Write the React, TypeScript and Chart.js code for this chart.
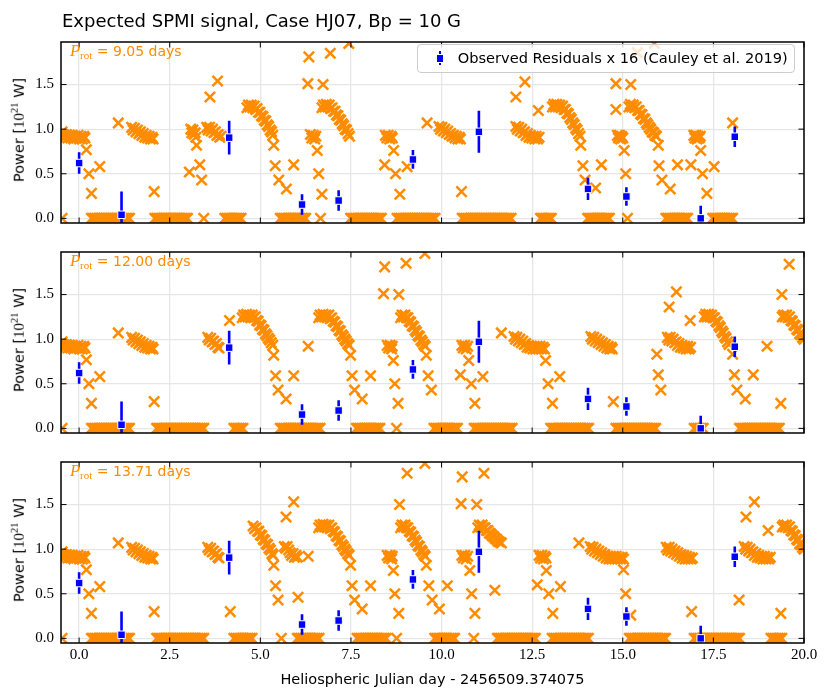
import React, { useEffect, useRef } from 'react';
import { Chart, registerables } from 'chart.js';

Chart.register(...registerables);

type Pt = [number, number];

// ---------- axes ----------
const X_TICKS = [0, 2.5, 5, 7.5, 10, 12.5, 15, 17.5, 20];
const Y_TICKS = [0, 0.5, 1.0, 1.5];
const X_MIN = -0.5;
const X_MAX = 20;
const Y_MIN = -0.052;
const Y_MAX = 1.977;
// model sampling interval (days) used inside the zero-power intervals
const ZERO_STEP = 0.05;

// ---------- observed residuals (blue) ----------
const OBS_X = [0.0, 1.17, 4.14, 6.15, 7.16, 9.21, 11.03, 14.04, 15.10, 17.15, 18.09];
const OBS_Y = [0.62, 0.04, 0.905, 0.155, 0.20, 0.66, 0.97, 0.33, 0.245, 0.0, 0.915];
const OBS_ERR = [0.12, 0.26, 0.19, 0.115, 0.115, 0.105, 0.235, 0.125, 0.105, 0.14, 0.115];

// ---------- model: intervals where power is zero ----------
const P1_ZERO: Pt[] = [[-0.47, -0.47], [0.34, 1.40], [2.09, 3.01], [3.44, 3.44], [4.02, 4.50], [5.55, 6.29], [6.66, 6.66], [7.49, 8.36], [8.77, 9.83], [10.57, 11.95], [12.73, 13.06], [14.03, 14.65], [15.13, 15.13], [16.19, 16.83], [17.48, 18.07]];
const P2_ZERO: Pt[] = [[-0.47, -0.47], [0.34, 1.40], [2.14, 3.48], [4.27, 4.54], [5.55, 6.66], [7.65, 8.31], [8.76, 8.76], [9.79, 10.48], [10.90, 11.95], [13.01, 14.07], [14.81, 15.91], [16.97, 17.22], [18.22, 19.32]];
const P3_ZERO: Pt[] = [[-0.47, -0.47], [0.34, 1.40], [2.14, 3.48], [4.27, 4.79], [5.58, 5.58], [6.02, 6.62], [7.67, 8.50], [8.76, 8.76], [9.81, 10.40], [10.89, 10.89], [11.54, 12.60], [13.05, 14.07], [15.18, 16.19], [16.97, 18.25], [19.09, 19.41]];

// ---------- model: non-zero power ----------
const START_PTS: Pt[] = [
  [-0.47, 0.97], [-0.43, 0.94], [-0.39, 0.91], [-0.35, 0.94], [-0.31, 0.90], [-0.27, 0.93], [-0.23, 0.90], [-0.19, 0.93], [-0.15, 0.89], [-0.11, 0.92], [-0.07, 0.90], [-0.03, 0.93], [0.01, 0.89], [0.05, 0.92], [0.09, 0.89], [0.13, 0.92], [0.16, 0.90],
  [0.20, 0.77], [0.27, 0.50], [0.34, 0.28], [0.57, 0.58], [1.08, 1.07],
  [1.45, 1.02], [1.49, 0.99], [1.53, 1.01], [1.57, 0.97], [1.61, 0.99], [1.65, 0.95], [1.69, 0.97], [1.73, 0.93], [1.77, 0.95], [1.81, 0.91], [1.85, 0.93], [1.89, 0.90], [1.93, 0.92], [1.97, 0.89], [2.01, 0.91], [2.04, 0.89],
  [2.07, 0.30],
];

const ARC_B: Pt[] = [[6.61, 1.24], [6.65, 1.27], [6.69, 1.25], [6.73, 1.28], [6.77, 1.25], [6.81, 1.27], [6.85, 1.25], [6.89, 1.27], [6.93, 1.23], [6.97, 1.24], [7.01, 1.20], [7.05, 1.19], [7.09, 1.15], [7.13, 1.14], [7.17, 1.10], [7.21, 1.09], [7.25, 1.05], [7.29, 1.03], [7.33, 1.00], [7.37, 0.98], [7.41, 0.95], [7.45, 0.93]];
const ARC_C: Pt[] = [[8.87, 1.24], [8.91, 1.27], [8.95, 1.25], [8.99, 1.27], [9.03, 1.24], [9.07, 1.24], [9.11, 1.20], [9.15, 1.19], [9.19, 1.15], [9.23, 1.14], [9.27, 1.10], [9.31, 1.08], [9.35, 1.04], [9.39, 1.03], [9.43, 0.99], [9.47, 0.97], [9.51, 0.94], [9.55, 0.92]];
const ARC_E: Pt[] = [[19.40, 1.25], [19.44, 1.27], [19.48, 1.25], [19.52, 1.27], [19.56, 1.24], [19.60, 1.25], [19.64, 1.21], [19.68, 1.20], [19.72, 1.16], [19.76, 1.15], [19.80, 1.11], [19.84, 1.10], [19.88, 1.06], [19.92, 1.05], [19.96, 1.02], [20.00, 1.00]];

const P1_PTS: Pt[] = [
  [3.08, 1.00], [3.11, 0.96], [3.14, 0.99], [3.17, 0.94], [3.20, 0.96], [3.22, 0.91],
  [3.04, 0.52], [3.24, 0.82], [3.33, 0.60], [3.38, 0.43], [3.61, 1.36], [3.82, 1.54],
  [3.52, 1.02], [3.56, 0.99], [3.60, 1.02], [3.64, 0.98], [3.68, 1.00], [3.72, 0.96], [3.76, 0.97], [3.80, 0.93], [3.84, 0.94], [3.88, 0.91], [3.92, 0.92],
  [4.63, 1.24], [4.67, 1.27], [4.71, 1.25], [4.75, 1.27], [4.79, 1.24], [4.83, 1.26], [4.87, 1.22], [4.91, 1.23], [4.95, 1.19], [4.99, 1.19], [5.03, 1.15], [5.07, 1.14], [5.11, 1.10], [5.15, 1.09], [5.19, 1.05], [5.23, 1.03], [5.27, 0.99], [5.31, 0.97], [5.34, 0.93],
  [5.37, 0.82], [5.41, 0.59], [5.51, 0.43], [5.72, 0.33], [5.92, 0.60],
  [6.31, 1.51], [6.34, 1.81], [6.73, 1.50], [6.93, 1.85], [7.44, 1.96],
  [6.38, 0.94], [6.42, 0.90], [6.46, 0.93], [6.50, 0.89], [6.53, 0.92],
  [6.57, 0.76], [6.61, 0.50], [6.70, 0.27],
  [6.70, 1.24], [6.74, 1.27], [6.78, 1.25], [6.82, 1.28], [6.86, 1.25], [6.90, 1.27], [6.94, 1.23], [6.98, 1.24], [7.02, 1.20], [7.06, 1.20], [7.10, 1.16], [7.14, 1.15], [7.18, 1.11], [7.22, 1.10], [7.26, 1.06], [7.30, 1.04], [7.34, 1.00], [7.38, 0.99], [7.42, 0.95], [7.46, 0.92],
  [8.45, 0.93], [8.49, 0.90], [8.53, 0.93], [8.57, 0.89], [8.61, 0.92], [8.64, 0.90],
  [8.68, 0.76], [8.43, 0.60], [8.73, 0.50], [8.85, 0.27], [9.05, 0.58], [9.60, 1.07],
  [9.93, 1.03], [9.97, 1.00], [10.01, 1.02], [10.05, 0.98], [10.09, 1.00], [10.13, 0.96], [10.17, 0.98], [10.21, 0.94], [10.25, 0.95], [10.29, 0.92], [10.33, 0.93], [10.37, 0.90], [10.41, 0.92], [10.45, 0.89], [10.49, 0.91], [10.52, 0.89],
  [10.55, 0.30], [12.05, 1.36], [12.30, 1.53], [12.67, 1.21],
  [12.05, 1.03], [12.09, 1.00], [12.13, 1.02], [12.17, 0.98], [12.21, 1.00], [12.25, 0.96], [12.29, 0.97], [12.33, 0.93], [12.37, 0.95], [12.41, 0.91], [12.45, 0.93], [12.49, 0.90], [12.53, 0.92], [12.57, 0.89], [12.61, 0.92], [12.65, 0.89], [12.69, 0.91],
  [13.06, 1.25], [13.10, 1.28], [13.14, 1.25], [13.18, 1.28], [13.22, 1.25], [13.26, 1.27], [13.30, 1.24], [13.34, 1.26], [13.38, 1.22], [13.42, 1.22], [13.46, 1.18], [13.50, 1.17], [13.54, 1.13], [13.58, 1.11], [13.62, 1.07], [13.66, 1.05], [13.70, 1.01], [13.74, 0.99], [13.78, 0.95], [13.82, 0.92],
  [13.84, 0.82], [13.90, 0.59], [13.96, 0.43], [14.25, 0.34], [14.41, 0.60],
  [14.81, 1.51], [15.22, 1.50], [14.81, 1.22],
  [14.85, 0.93], [14.88, 0.90], [14.91, 0.93], [14.94, 0.89], [14.97, 0.92], [15.00, 0.90],
  [15.04, 0.76], [15.08, 0.50], [15.40, 1.86], [15.87, 1.96],
  [15.17, 1.25], [15.21, 1.28], [15.25, 1.25], [15.29, 1.27], [15.33, 1.24], [15.37, 1.25], [15.41, 1.21], [15.45, 1.21], [15.49, 1.17], [15.53, 1.16], [15.57, 1.12], [15.61, 1.11], [15.65, 1.07], [15.69, 1.05], [15.73, 1.02], [15.77, 1.00], [15.81, 0.97], [15.85, 0.96], [15.89, 0.93], [15.93, 0.92],
  [15.98, 0.82], [16.00, 0.59], [16.08, 0.43], [16.31, 0.33], [16.51, 0.60], [16.88, 0.60],
  [16.96, 0.93], [16.99, 0.90], [17.02, 0.93], [17.05, 0.89], [17.08, 0.92], [17.11, 0.90], [17.14, 0.92],
  [17.15, 0.76], [17.20, 0.50], [17.32, 0.28], [17.52, 0.58], [18.03, 1.07],
];

const P2_PTS: Pt[] = [
  [3.55, 1.02], [3.59, 0.99], [3.63, 1.01], [3.67, 0.97], [3.71, 0.98], [3.75, 0.94], [3.79, 0.95], [3.83, 0.91], [3.86, 0.90],
  [4.15, 1.21],
  [4.50, 1.24], [4.54, 1.27], [4.58, 1.25], [4.62, 1.28], [4.66, 1.25], [4.70, 1.27], [4.74, 1.25], [4.78, 1.27], [4.82, 1.24], [4.86, 1.25], [4.90, 1.21], [4.94, 1.20], [4.98, 1.16], [5.02, 1.15], [5.06, 1.11], [5.10, 1.10], [5.14, 1.06], [5.18, 1.04], [5.22, 1.01], [5.26, 0.99], [5.30, 0.96], [5.34, 0.93],
  [5.37, 0.82], [5.42, 0.59], [5.49, 0.43], [5.71, 0.33], [5.92, 0.59], [6.32, 0.92],
  [7.49, 0.82], [7.53, 0.59], [7.60, 0.43], [7.81, 0.33], [8.04, 0.59],
  [8.40, 1.51], [8.43, 1.81], [8.82, 1.50], [9.02, 1.85], [9.54, 1.96],
  [8.50, 0.93], [8.54, 0.90], [8.58, 0.93], [8.62, 0.89], [8.64, 0.92],
  [8.67, 0.76], [8.71, 0.50], [8.80, 0.28],
  [9.58, 0.82], [9.63, 0.59], [9.72, 0.43],
  [10.56, 0.93], [10.60, 0.90], [10.64, 0.93], [10.68, 0.89], [10.72, 0.92],
  [10.52, 0.60], [10.75, 0.76], [10.82, 0.50], [10.92, 0.28], [11.14, 0.58], [11.65, 1.07],
  [12.00, 1.03], [12.04, 1.00], [12.08, 1.02], [12.12, 0.98], [12.16, 1.00], [12.20, 0.96], [12.24, 0.98], [12.28, 0.94], [12.32, 0.95], [12.36, 0.91], [12.40, 0.93], [12.44, 0.90], [12.48, 0.92], [12.52, 0.89], [12.56, 0.92], [12.60, 0.89], [12.64, 0.92], [12.68, 0.89], [12.72, 0.92], [12.76, 0.89], [12.80, 0.91], [12.84, 0.89],
  [12.87, 0.76], [12.94, 0.50], [13.06, 0.28], [13.26, 0.58],
  [14.12, 1.03], [14.16, 1.00], [14.20, 1.02], [14.24, 0.98], [14.28, 1.00], [14.32, 0.96], [14.36, 0.98], [14.40, 0.94], [14.44, 0.96], [14.48, 0.92], [14.52, 0.94], [14.56, 0.90], [14.60, 0.92], [14.64, 0.89], [14.68, 0.91], [14.71, 0.89],
  [14.74, 0.30],
  [15.94, 0.83], [15.98, 0.60], [16.05, 0.43], [16.28, 1.36], [16.48, 1.53], [16.86, 1.21],
  [16.23, 1.02], [16.27, 0.99], [16.31, 1.02], [16.35, 0.98], [16.39, 1.00], [16.43, 0.96], [16.47, 0.97], [16.51, 0.93], [16.55, 0.95], [16.59, 0.91], [16.63, 0.93], [16.67, 0.90], [16.71, 0.92], [16.75, 0.89], [16.79, 0.92], [16.83, 0.89], [16.87, 0.91],
  [17.25, 1.25], [17.29, 1.28], [17.33, 1.25], [17.37, 1.28], [17.41, 1.25], [17.45, 1.27], [17.49, 1.24], [17.53, 1.24], [17.57, 1.20], [17.61, 1.19], [17.65, 1.15], [17.69, 1.13], [17.73, 1.09], [17.77, 1.07], [17.81, 1.03], [17.85, 1.01], [17.89, 0.97], [17.93, 0.94],
  [18.03, 0.83], [18.08, 0.60], [18.15, 0.43], [18.38, 0.33], [18.60, 0.60], [18.98, 0.92], [19.36, 0.28], [19.39, 1.50], [19.59, 1.84],
];

const P3_PTS: Pt[] = [
  [3.55, 1.02], [3.59, 0.99], [3.63, 1.01], [3.67, 0.97], [3.71, 0.98], [3.75, 0.94], [3.79, 0.95], [3.83, 0.91], [3.86, 0.90],
  [4.17, 0.30],
  [4.80, 1.26], [4.84, 1.23], [4.88, 1.24], [4.92, 1.20], [4.96, 1.20], [5.00, 1.16], [5.04, 1.15], [5.08, 1.11], [5.12, 1.10], [5.16, 1.06], [5.20, 1.05], [5.24, 1.01], [5.28, 0.99], [5.32, 0.95], [5.35, 0.93],
  [5.37, 0.82], [5.42, 0.59], [5.49, 0.43], [5.71, 1.36], [5.92, 1.53],
  [5.66, 1.03], [5.70, 1.01], [5.74, 1.03], [5.78, 0.99], [5.82, 0.96], [5.86, 0.93], [5.90, 0.95], [5.94, 0.91], [5.98, 0.93], [6.02, 0.91],
  [6.04, 0.46], [6.32, 0.92],
  [7.49, 0.82], [7.53, 0.59], [7.60, 0.43], [7.81, 0.33], [8.04, 0.59],
  [8.50, 0.93], [8.54, 0.90], [8.58, 0.93], [8.62, 0.89], [8.64, 0.92],
  [8.67, 0.76], [8.71, 0.50], [8.82, 0.28], [8.84, 1.50], [9.05, 1.85], [9.54, 1.96],
  [9.58, 0.82], [9.65, 0.59], [9.74, 0.43], [9.94, 0.33], [10.16, 0.59],
  [10.54, 1.51], [10.57, 1.81], [10.97, 1.50], [11.17, 1.85],
  [10.56, 0.93], [10.60, 0.90], [10.64, 0.93], [10.68, 0.89], [10.72, 0.92],
  [10.78, 0.76], [10.83, 0.50], [10.92, 0.28],
  [11.00, 1.24], [11.04, 1.27], [11.08, 1.25], [11.12, 1.27], [11.16, 1.24], [11.20, 1.24], [11.24, 1.21], [11.28, 1.21], [11.32, 1.18], [11.36, 1.17], [11.40, 1.15], [11.44, 1.14], [11.48, 1.12], [11.52, 1.11], [11.56, 1.09], [11.60, 1.08], [11.65, 1.07],
  [11.47, 0.54],
  [12.69, 0.93], [12.73, 0.90], [12.77, 0.93], [12.81, 0.89], [12.85, 0.92], [12.88, 0.90],
  [12.64, 0.60], [12.89, 0.76], [12.96, 0.50], [13.07, 0.28], [13.28, 0.58], [13.79, 1.07],
  [14.10, 1.03], [14.14, 1.00], [14.18, 1.02], [14.22, 0.98], [14.26, 1.00], [14.30, 0.96], [14.34, 0.98], [14.38, 0.94], [14.42, 0.96], [14.46, 0.92], [14.50, 0.94], [14.54, 0.90], [14.58, 0.92], [14.62, 0.89], [14.66, 0.92], [14.70, 0.89], [14.74, 0.92], [14.78, 0.89], [14.82, 0.92], [14.86, 0.89], [14.90, 0.91], [14.94, 0.89], [14.98, 0.91], [15.02, 0.89],
  [15.02, 0.77], [15.08, 0.50], [15.22, 0.26],
  [16.20, 1.02], [16.24, 0.99], [16.28, 1.02], [16.32, 0.98], [16.36, 1.00], [16.40, 0.96], [16.44, 0.98], [16.48, 0.94], [16.52, 0.96], [16.56, 0.92], [16.60, 0.94], [16.64, 0.90], [16.68, 0.93], [16.72, 0.89], [16.76, 0.92], [16.80, 0.89], [16.84, 0.91], [16.88, 0.89], [16.92, 0.90],
  [16.90, 0.30],
  [18.21, 0.43], [18.40, 1.36], [18.63, 1.53],
  [18.35, 1.03], [18.39, 1.00], [18.43, 1.02], [18.47, 0.98], [18.51, 1.00], [18.55, 0.96], [18.59, 0.97], [18.63, 0.93], [18.67, 0.95], [18.71, 0.91], [18.75, 0.93], [18.79, 0.90], [18.83, 0.92], [18.87, 0.89], [18.91, 0.92], [18.95, 0.89], [18.99, 0.91], [19.03, 0.89], [19.07, 0.91],
  [19.01, 1.21], [19.36, 0.28],
];

const PANELS = [
  { prot: '9.05', zero: P1_ZERO, pts: [...START_PTS, ...P1_PTS] },
  { prot: '12.00', zero: P2_ZERO, pts: [...START_PTS, ...P2_PTS, ...ARC_B, ...ARC_C, ...ARC_E] },
  { prot: '13.71', zero: P3_ZERO, pts: [...START_PTS, ...P3_PTS, ...ARC_B, ...ARC_C, ...ARC_E] },
];

const PANEL_TOPS = [36, 246, 456];
const PLOT_H = 187;
const PAD_TOP = 10;
const BOTTOM_SPACE = 30;

const ORANGE = '#ff8c00';
const BLUE = '#0000ff';
const SANS = '"DejaVu Sans", sans-serif';
const SERIF = '"Liberation Serif", serif';

function zeroPoints(segs: Pt[]) {
  const out: { x: number; y: number }[] = [];
  for (const [a, b] of segs) {
    for (let x = a; x <= b + 1e-9; x += ZERO_STEP) out.push({ x: +x.toFixed(3), y: 0 });
  }
  return out;
}

const framePlugin = {
  id: 'frameTicks',
  afterDatasetsDraw(chart: any) {
    const { ctx, chartArea: a, scales } = chart;
    ctx.save();
    ctx.strokeStyle = '#000';
    ctx.lineWidth = 1;
    ctx.beginPath();
    for (const v of X_TICKS) {
      const px = scales.x.getPixelForValue(v);
      ctx.moveTo(px, a.bottom);
      ctx.lineTo(px, a.bottom - 5.5);
      ctx.moveTo(px, a.top);
      ctx.lineTo(px, a.top + 5.5);
    }
    for (const v of Y_TICKS) {
      const py = scales.y.getPixelForValue(v);
      ctx.moveTo(a.left, py);
      ctx.lineTo(a.left + 5.5, py);
      ctx.moveTo(a.right, py);
      ctx.lineTo(a.right - 5.5, py);
    }
    ctx.stroke();
    ctx.lineWidth = 1.5;
    ctx.strokeRect(a.left, a.top, a.right - a.left, a.bottom - a.top);
    ctx.restore();
  },
};

function Panel({ index }: { index: number }) {
  const ref = useRef<HTMLCanvasElement>(null);
  const panel = PANELS[index];
  const showX = index === 2;
  const canvasTop = PANEL_TOPS[index] - PAD_TOP;
  const canvasH = PAD_TOP + PLOT_H + BOTTOM_SPACE;

  useEffect(() => {
    if (!ref.current) return;
    const orange = [...zeroPoints(panel.zero), ...panel.pts.map(([x, y]) => ({ x, y }))];
    const bars: { x: number; y: number | null }[] = [];
    OBS_X.forEach((x, i) => {
      bars.push({ x, y: OBS_Y[i] - OBS_ERR[i] }, { x, y: OBS_Y[i] + OBS_ERR[i] }, { x, y: null });
    });
    const obs = OBS_X.map((x, i) => ({ x, y: OBS_Y[i] }));
    const tickFont = { family: 'Liberation Serif', size: 15 };
    const chart = new Chart(ref.current, {
      type: 'scatter',
      data: {
        datasets: [
          { data: obs, pointStyle: 'rect', pointRadius: 5.3, pointHoverRadius: 5.3, backgroundColor: BLUE, borderColor: '#ffffff', borderWidth: 1, order: 0, clip: 0 } as any,
          { type: 'line', data: bars, showLine: true, borderColor: BLUE, borderWidth: 2.6, pointRadius: 0, spanGaps: false, fill: false, order: 1, clip: 0 } as any,
          { data: orange, pointStyle: 'crossRot', pointRadius: 7.3, pointHoverRadius: 7.3, borderColor: ORANGE, backgroundColor: ORANGE, borderWidth: 2.5, order: 2, clip: 0 } as any,
        ],
      },
      options: {
        responsive: false,
        animation: false,
        devicePixelRatio: 1,
        events: [],
        layout: { padding: { top: PAD_TOP, right: 26, left: 0, bottom: 0 } },
        plugins: { legend: { display: false }, tooltip: { enabled: false }, title: { display: false } },
        scales: {
          x: {
            type: 'linear',
            min: X_MIN,
            max: X_MAX,
            afterBuildTicks: (s: any) => { s.ticks = X_TICKS.map((v) => ({ value: v })); },
            afterFit: (s: any) => { s.height = BOTTOM_SPACE; },
            grid: { color: '#e6e6e6', lineWidth: 1.3, drawTicks: false },
            border: { display: false },
            ticks: { display: showX, autoSkip: false, maxRotation: 0, padding: 3, color: '#000', font: tickFont, callback: (v: any) => Number(v).toFixed(1) },
          },
          y: {
            type: 'linear',
            min: Y_MIN,
            max: Y_MAX,
            afterBuildTicks: (s: any) => { s.ticks = Y_TICKS.map((v) => ({ value: v })); },
            afterFit: (s: any) => { s.width = 61; },
            grid: { color: '#e6e6e6', lineWidth: 1.3, drawTicks: false },
            border: { display: false },
            ticks: { autoSkip: false, padding: 7, color: '#000', font: tickFont, callback: (v: any) => Number(v).toFixed(1) },
          },
        },
      } as any,
      plugins: [framePlugin],
    });
    return () => chart.destroy();
  }, []);

  const centerY = PANEL_TOPS[index] + PLOT_H / 2;
  return (
    <>
      <canvas
        ref={ref}
        width={830}
        height={canvasH}
        style={{ position: 'absolute', left: 0, top: canvasTop, width: 830, height: canvasH }}
      />
      <div
        style={{
          position: 'absolute', left: 70, top: PANEL_TOPS[index] + 8.2, color: ORANGE,
          fontFamily: SANS, fontSize: 14, lineHeight: '14px', whiteSpace: 'nowrap', fontWeight: 400,
        }}
      >
        <span style={{ fontFamily: SERIF, fontStyle: 'italic', fontSize: 16.5 }}>P</span>
        <span style={{ fontFamily: SERIF, fontSize: 11, position: 'relative', top: 3 }}>rot</span>
        <span> = {panel.prot} days</span>
      </div>
      <div
        style={{
          position: 'absolute', left: 20, top: centerY, transform: 'translate(-50%, -50%) rotate(-90deg)',
          fontFamily: SANS, fontSize: 14.5, lineHeight: '14.5px', whiteSpace: 'nowrap', color: '#000', fontWeight: 400,
        }}
      >
        <span>Power [</span>
        <span style={{ fontFamily: SERIF, fontSize: 15 }}>
          10<span style={{ fontSize: 10.5, position: 'relative', top: -6 }}>21</span>
        </span>
        <span> W]</span>
      </div>
    </>
  );
}

export default function App() {
  return (
    <div style={{ position: 'absolute', left: 0, top: 0, width: 830, height: 699, background: '#fff', overflow: 'hidden' }}>
      <Panel index={0} />
      <Panel index={1} />
      <Panel index={2} />
      <div
        style={{
          position: 'absolute', left: 62, top: 11.5, fontFamily: SANS, fontSize: 18,
          lineHeight: '18px', whiteSpace: 'nowrap', color: '#000', fontWeight: 400,
        }}
      >
        Expected SPMI signal, Case HJ07, Bp = 10 G
      </div>
      <div
        style={{
          position: 'absolute', left: 432.5, top: 672, transform: 'translateX(-50%)', fontFamily: SANS,
          fontSize: 14.5, lineHeight: '14.5px', whiteSpace: 'nowrap', color: '#000', fontWeight: 400,
        }}
      >
        Heliospheric Julian day - 2456509.374075
      </div>
      <div
        style={{
          position: 'absolute', left: 417, top: 44, width: 378, height: 29, boxSizing: 'border-box',
          border: '1px solid #cccccc', borderRadius: 4, background: 'rgba(255,255,255,0.8)',
        }}
      >
        <div style={{ position: 'absolute', left: 20.8, top: 5.7, width: 2.6, height: 14.3, background: BLUE }} />
        <div style={{ position: 'absolute', left: 18, top: 9.2, width: 6.4, height: 6.4, background: BLUE, border: '1px solid #fff' }} />
        <div
          style={{
            position: 'absolute', left: 39.7, top: 5.9, fontFamily: SANS, fontSize: 14.6,
            lineHeight: '14.6px', whiteSpace: 'nowrap', color: '#000', fontWeight: 400,
          }}
        >
          Observed Residuals x 16 (Cauley et al. 2019)
        </div>
      </div>
    </div>
  );
}
